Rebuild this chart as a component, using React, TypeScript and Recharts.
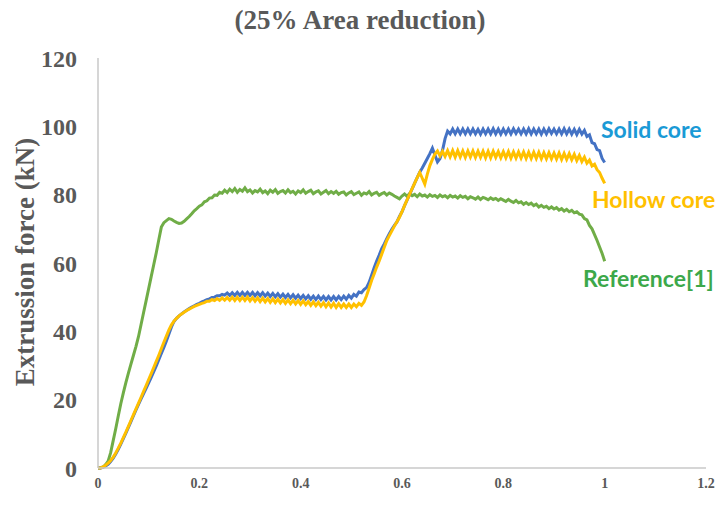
import React from "react";
import { LineChart, Line, XAxis, YAxis } from "recharts";

// ram displacement samples (0 .. 1, every 0.005)
const displacement = [
  0, 0.005, 0.01, 0.015, 0.02, 0.025, 0.03, 0.035, 0.04, 0.045,
  0.05, 0.055, 0.06, 0.065, 0.07, 0.075, 0.08, 0.085, 0.09, 0.095,
  0.1, 0.105, 0.11, 0.115, 0.12, 0.125, 0.13, 0.135, 0.14, 0.145,
  0.15, 0.155, 0.16, 0.165, 0.17, 0.175, 0.18, 0.185, 0.19, 0.195,
  0.2, 0.205, 0.21, 0.215, 0.22, 0.225, 0.23, 0.235, 0.24, 0.245,
  0.25, 0.255, 0.26, 0.265, 0.27, 0.275, 0.28, 0.285, 0.29, 0.295,
  0.3, 0.305, 0.31, 0.315, 0.32, 0.325, 0.33, 0.335, 0.34, 0.345,
  0.35, 0.355, 0.36, 0.365, 0.37, 0.375, 0.38, 0.385, 0.39, 0.395,
  0.4, 0.405, 0.41, 0.415, 0.42, 0.425, 0.43, 0.435, 0.44, 0.445,
  0.45, 0.455, 0.46, 0.465, 0.47, 0.475, 0.48, 0.485, 0.49, 0.495,
  0.5, 0.505, 0.51, 0.515, 0.52, 0.525, 0.53, 0.535, 0.54, 0.545,
  0.55, 0.555, 0.56, 0.565, 0.57, 0.575, 0.58, 0.585, 0.59, 0.595,
  0.6, 0.605, 0.61, 0.615, 0.62, 0.625, 0.63, 0.635, 0.64, 0.645,
  0.65, 0.655, 0.66, 0.665, 0.67, 0.675, 0.68, 0.685, 0.69, 0.695,
  0.7, 0.705, 0.71, 0.715, 0.72, 0.725, 0.73, 0.735, 0.74, 0.745,
  0.75, 0.755, 0.76, 0.765, 0.77, 0.775, 0.78, 0.785, 0.79, 0.795,
  0.8, 0.805, 0.81, 0.815, 0.82, 0.825, 0.83, 0.835, 0.84, 0.845,
  0.85, 0.855, 0.86, 0.865, 0.87, 0.875, 0.88, 0.885, 0.89, 0.895,
  0.9, 0.905, 0.91, 0.915, 0.92, 0.925, 0.93, 0.935, 0.94, 0.945,
  0.95, 0.955, 0.96, 0.965, 0.97, 0.975, 0.98, 0.985, 0.99, 0.995,
  1,
];

// extrusion force (kN)
const solidCore = [
  0, 0, 0.2, 0.6, 1.1, 1.9, 2.9, 4.1, 5.5, 7.0,
  8.6, 10.2, 11.9, 13.6, 15.3, 17.0, 18.6, 20.2, 21.8, 23.3,
  24.9, 26.5, 28.2, 29.9, 31.7, 33.5, 35.3, 37.2, 39.2, 41.3,
  42.9, 43.8, 44.5, 45.1, 45.7, 46.2, 46.7, 47.1, 47.5, 47.9,
  48.2, 48.6, 48.9, 49.3, 49.5, 49.9, 50.0, 50.4, 50.4, 50.8,
  50.6, 51.2, 50.5, 51.3, 50.5, 51.4, 50.5, 51.4, 50.5, 51.4,
  50.5, 51.4, 50.4, 51.3, 50.4, 51.3, 50.3, 51.2, 50.2, 51.1,
  50.1, 51.0, 50.0, 50.9, 49.9, 50.8, 49.8, 50.7, 49.7, 50.6,
  49.6, 50.5, 49.5, 50.4, 49.4, 50.3, 49.3, 50.3, 49.3, 50.2,
  49.2, 50.2, 49.2, 50.2, 49.2, 50.2, 49.3, 50.3, 49.4, 50.5,
  49.7, 50.8, 50.3, 51.5, 51.3, 52.2, 52.8, 54.3, 56.4, 58.6,
  60.6, 62.3, 64.2, 65.6, 67.1, 68.6, 69.9, 71.0, 72.0, 73.6,
  75.0, 76.8, 78.4, 80.0, 81.7, 83.4, 85.0, 86.6, 87.8, 89.2,
  90.6, 92.0, 93.6, 91.6, 89.6, 90.6, 93.0, 96.4, 98.6, 97.8,
  99.2, 97.8, 99.2, 97.8, 99.2, 97.8, 99.2, 97.8, 99.2, 97.8,
  99.1, 97.7, 99.2, 97.8, 99.2, 97.8, 99.3, 97.8, 99.2, 97.7,
  99.2, 97.8, 99.2, 97.8, 99.3, 97.9, 99.2, 97.8, 99.2, 97.8,
  99.3, 97.8, 99.2, 97.8, 99.2, 97.7, 99.2, 97.8, 99.3, 97.9,
  99.2, 97.8, 99.2, 97.8, 99.3, 97.8, 99.2, 97.7, 99.1, 97.6,
  99.1, 97.7, 98.8, 97.0, 97.5, 95.2, 94.9, 93.2, 92.9, 90.6,
  89.4,
];

const hollowCore = [
  0, 0, 0.3, 0.8, 1.4, 2.2, 3.2, 4.4, 5.8, 7.3,
  8.9, 10.5, 12.2, 13.9, 15.6, 17.3, 19.0, 20.7, 22.4, 24.1,
  25.9, 27.6, 29.4, 31.2, 33.0, 34.9, 36.8, 38.6, 40.4, 41.9,
  43.0, 43.8, 44.5, 45.1, 45.6, 46.1, 46.5, 46.9, 47.3, 47.6,
  47.9, 48.2, 48.4, 48.8, 48.8, 49.3, 49.0, 49.6, 49.1, 49.8,
  49.1, 49.9, 49.1, 50.0, 49.0, 50.0, 49.0, 50.0, 49.0, 50.0,
  48.9, 49.9, 48.8, 49.8, 48.7, 49.7, 48.6, 49.6, 48.5, 49.5,
  48.4, 49.4, 48.3, 49.3, 48.2, 49.2, 48.1, 49.1, 48.0, 49.0,
  47.9, 48.9, 47.8, 48.7, 47.6, 48.6, 47.5, 48.5, 47.4, 48.4,
  47.2, 48.3, 47.1, 48.2, 47.0, 48.1, 47.0, 48.0, 47.0, 48.0,
  47.0, 48.0, 47.2, 48.2, 47.6, 48.6, 50.4, 52.6, 54.9, 56.8,
  58.8, 60.6, 62.6, 64.6, 66.6, 68.0, 69.4, 70.8, 72.1, 73.4,
  75.0, 76.8, 78.5, 80.1, 81.8, 83.4, 85.0, 86.5, 84.8, 83.1,
  86.0, 88.5, 90.3, 91.9, 92.8, 91.3, 92.7, 91.2, 92.9, 91.1,
  92.9, 91.0, 92.9, 91.0, 92.8, 90.9, 92.8, 91.0, 92.8, 90.9,
  92.7, 90.9, 92.7, 90.8, 92.7, 90.8, 92.7, 90.9, 92.6, 90.8,
  92.6, 90.8, 92.6, 90.7, 92.5, 90.7, 92.5, 90.7, 92.5, 90.6,
  92.4, 90.6, 92.4, 90.6, 92.4, 90.5, 92.3, 90.5, 92.3, 90.5,
  92.2, 90.4, 92.2, 90.3, 92.1, 90.3, 92.0, 90.2, 91.8, 90.0,
  91.5, 89.7, 91.0, 89.2, 90.1, 88.4, 88.9, 87.3, 86.5, 84.8,
  83.3,
];

const reference1 = [
  0, 0.1, 0.3, 1.0, 2.0, 4.5, 8.0, 11.5, 15.2, 18.8,
  22.0, 25.0, 27.8, 30.4, 33.0, 35.6, 38.5, 42.0, 45.5, 49.0,
  52.5, 56.0, 59.5, 63.0, 66.8, 70.5, 71.8, 72.4, 73.0, 72.8,
  72.3, 71.9, 71.6, 71.7, 72.2, 72.9, 73.6, 74.4, 75.3, 75.9,
  76.6, 77.0, 77.9, 78.2, 79.0, 79.1, 79.9, 79.8, 80.7, 80.4,
  81.3, 80.6, 81.6, 80.9, 81.8, 80.7, 81.5, 81.0, 82.0, 80.9,
  81.4, 80.5, 81.2, 80.8, 81.6, 80.6, 81.1, 80.3, 81.3, 80.7,
  81.5, 80.4, 80.9, 81.2, 80.5, 81.4, 80.6, 81.0, 80.2, 81.1,
  80.6, 81.4, 80.4, 80.9, 81.3, 80.3, 80.8, 81.1, 80.2, 80.7,
  81.2, 80.3, 80.9, 80.4, 81.0, 80.1, 80.6, 80.8, 79.9, 80.5,
  80.9, 80.0, 80.4, 80.8, 79.8, 80.5, 80.2, 80.9, 79.9, 80.4,
  80.7, 79.8, 80.3, 80.6, 79.9, 80.5, 80.1, 79.6, 79.2, 78.8,
  79.6, 80.2, 79.5, 80.3, 79.7, 80.1, 79.4, 80.2, 79.6, 79.9,
  79.3, 80.0, 79.5, 79.8, 79.2, 79.9, 79.4, 79.7, 79.1, 79.8,
  79.3, 79.6, 79.0, 79.7, 79.2, 79.5, 78.8, 79.4, 79.1, 78.7,
  79.3, 78.6, 79.2, 78.9, 78.5, 79.1, 78.6, 78.9, 78.3, 78.8,
  78.4, 78.0, 78.6, 78.1, 77.7, 78.3, 77.6, 77.9, 77.2, 77.7,
  77.1, 77.5, 76.8, 77.2, 76.4, 76.9, 76.3, 76.6, 75.9, 76.4,
  75.8, 76.2, 75.5, 75.9, 75.2, 75.7, 75.0, 75.4, 74.7, 75.0,
  74.3, 74.1, 73.0, 72.6, 71.0, 70.0, 68.3, 66.6, 64.7, 62.8,
  60.5,
];

const xTicks = [0, 0.2, 0.4, 0.6, 0.8, 1, 1.2];
const yTicks = [0, 20, 40, 60, 80, 100, 120];

const rows = displacement.map((x, i) => ({
  x,
  solid: solidCore[i],
  hollow: hollowCore[i],
  ref: reference1[i],
}));

const SERIF = '"Liberation Serif", "Times New Roman", serif';
const SANS = 'Lato, "Open Sans", sans-serif';
const GREY = "#595959";

export default function App() {
  return (
    <div
      style={{
        position: "absolute",
        left: 0,
        top: 0,
        width: 725,
        height: 527,
        background: "#fff",
      }}
    >
      <LineChart
        width={725}
        height={527}
        data={rows}
        margin={{ top: 58, right: 19, left: 0, bottom: 29 }}
      >
        <XAxis
          dataKey="x"
          type="number"
          domain={[0, 1.2]}
          ticks={xTicks}
          height={30}
          tickLine={false}
          tickSize={0}
          tickMargin={10}
          axisLine={{ stroke: "#c9c9c9", strokeWidth: 1.5 }}
          tick={{ fill: GREY, fontFamily: SERIF, fontWeight: 700, fontSize: 14 }}
        />
        <YAxis
          type="number"
          domain={[0, 120]}
          ticks={yTicks}
          width={98}
          tickLine={false}
          tickSize={0}
          tickMargin={21}
          axisLine={{ stroke: "#c9c9c9", strokeWidth: 1.5 }}
          tick={{ fill: GREY, fontFamily: SERIF, fontWeight: 700, fontSize: 24 }}
        />
        <Line
          dataKey="ref"
          type="linear"
          stroke="#70AD47"
          strokeWidth={3}
          dot={false}
          isAnimationActive={false}
        />
        <Line
          dataKey="solid"
          type="linear"
          stroke="#4472C4"
          strokeWidth={3}
          dot={false}
          isAnimationActive={false}
        />
        <Line
          dataKey="hollow"
          type="linear"
          stroke="#FFC000"
          strokeWidth={3}
          dot={false}
          isAnimationActive={false}
        />
      </LineChart>

      {/* title, axis title and series labels */}
      <svg
        width={725}
        height={527}
        style={{ position: "absolute", left: 0, top: 0, pointerEvents: "none" }}
      >
        <text
          x={360}
          y={29}
          textAnchor="middle"
          fill={GREY}
          fontFamily={SERIF}
          fontWeight={700}
          fontSize={27}
        >
          (25% Area reduction)
        </text>
        <text
          x={34}
          y={262}
          transform="rotate(-90 34 262)"
          textAnchor="middle"
          fill={GREY}
          fontFamily={SERIF}
          fontWeight={700}
          fontSize={27}
        >
          Extrussion force (kN)
        </text>
        <text x={601} y={138} fill="#1A9AD6" fontFamily={SANS} fontWeight={700} fontSize={23}>
          Solid core
        </text>
        <text x={592} y={208} fill="#FFC000" fontFamily={SANS} fontWeight={700} fontSize={23}>
          Hollow core
        </text>
        <text x={583} y={287} fill="#3CA84A" fontFamily={SANS} fontWeight={700} fontSize={23}>
          Reference[1]
        </text>
      </svg>
    </div>
  );
}
